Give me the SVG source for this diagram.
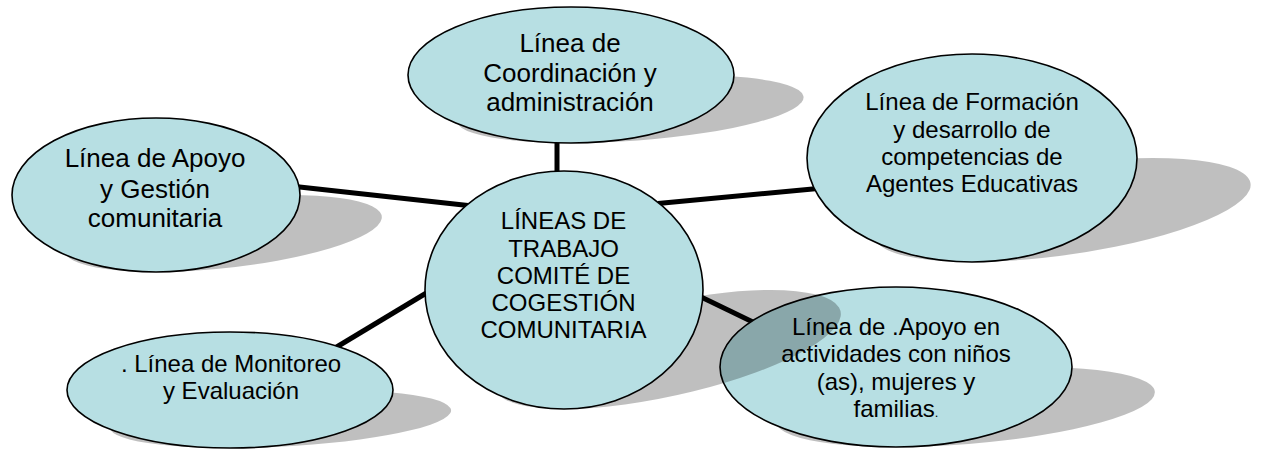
<svg xmlns="http://www.w3.org/2000/svg" width="1265" height="449" viewBox="0 0 1265 449">
<style>
.bg{fill:#ffffff}
.node{fill:#b7dfe3;stroke:#000;stroke-width:1.6}
.shadow{fill:#000;fill-opacity:0.25;stroke:none}
.conn{stroke:#000;stroke-width:5;stroke-linecap:butt;fill:none}
.t{font-family:"Liberation Sans",Arial,sans-serif;fill:#000;text-anchor:middle}
.big{font-size:26px}
.mid{font-size:24px}
</style>
<rect class="bg" x="0" y="0" width="1265" height="449"/>
<g id="connectors">
<line class="conn" x1="557" y1="140" x2="557" y2="176"/>
<line class="conn" x1="295" y1="186.4" x2="468" y2="205.5"/>
<line class="conn" x1="658" y1="203.5" x2="818" y2="188.5"/>
<line class="conn" x1="428" y1="292" x2="335" y2="348"/>
<line class="conn" x1="698" y1="295.6" x2="758" y2="324.4"/>
</g>
<g id="node-coordinacion">
<ellipse class="shadow" cx="571" cy="75" rx="163" ry="68" transform="matrix(1,0,-0.87,0.5,124.41,71.5)"/>
<ellipse class="node" cx="571" cy="75" rx="163" ry="68"/>
<text class="t big" x="570" y="52">Línea de</text>
<text class="t big" x="570" y="82">Coordinación y</text>
<text class="t big" x="570" y="111">administración</text>
</g>
<g id="node-apoyo-gestion">
<ellipse class="shadow" cx="156" cy="195" rx="144" ry="77" transform="matrix(1,0,-0.87,0.5,236.64,136)"/>
<ellipse class="node" cx="156" cy="195" rx="144" ry="77"/>
<text class="t big" x="155" y="167">Línea de Apoyo</text>
<text class="t big" x="155" y="198">y Gestión</text>
<text class="t big" x="155" y="227">comunitaria</text>
</g>
<g id="node-formacion">
<ellipse class="shadow" cx="972" cy="158" rx="165" ry="104" transform="matrix(1,0,-0.87,0.5,227.94,131)"/>
<ellipse class="node" cx="972" cy="158" rx="165" ry="104"/>
<text class="t mid" x="972" y="110">Línea de Formación</text>
<text class="t mid" x="972" y="137.5">y desarrollo de</text>
<text class="t mid" x="972" y="165">competencias de</text>
<text class="t mid" x="972" y="192">Agentes Educativas</text>
</g>
<g id="node-monitoreo">
<ellipse class="shadow" cx="230" cy="390" rx="163" ry="58" transform="matrix(1,0,-0.87,0.5,389.76,224)"/>
<ellipse class="node" cx="230" cy="390" rx="163" ry="58"/>
<text class="t mid" x="231" y="371.5">. Línea de Monitoreo</text>
<text class="t mid" x="231" y="398.5">y Evaluación</text>
</g>
<g id="node-actividades">
<ellipse class="shadow" cx="896" cy="367" rx="176" ry="80" transform="matrix(1,0,-0.87,0.5,388.89,223.5)"/>
<ellipse class="node" cx="896" cy="367" rx="176" ry="80"/>
<text class="t mid" x="896" y="335">Línea de .Apoyo en</text>
<text class="t mid" x="896" y="362">actividades con niños</text>
<text class="t mid" x="896" y="390">(as), mujeres y</text>
<text class="t mid" x="896" y="417">familias<tspan font-size="13px">.</tspan></text>
</g>
<g id="node-centro">
<ellipse class="shadow" cx="564" cy="290" rx="139" ry="119" transform="matrix(1,0,-0.87,0.5,355.83,204.5)"/>
<ellipse class="node" cx="564" cy="290" rx="139" ry="119"/>
<text class="t mid" x="563.5" y="229">LÍNEAS DE</text>
<text class="t mid" x="563.5" y="256.5">TRABAJO</text>
<text class="t mid" x="563.5" y="284">COMITÉ DE</text>
<text class="t mid" x="563.5" y="311">COGESTIÓN</text>
<text class="t mid" x="563.5" y="338">COMUNITARIA</text>
</g>
</svg>
